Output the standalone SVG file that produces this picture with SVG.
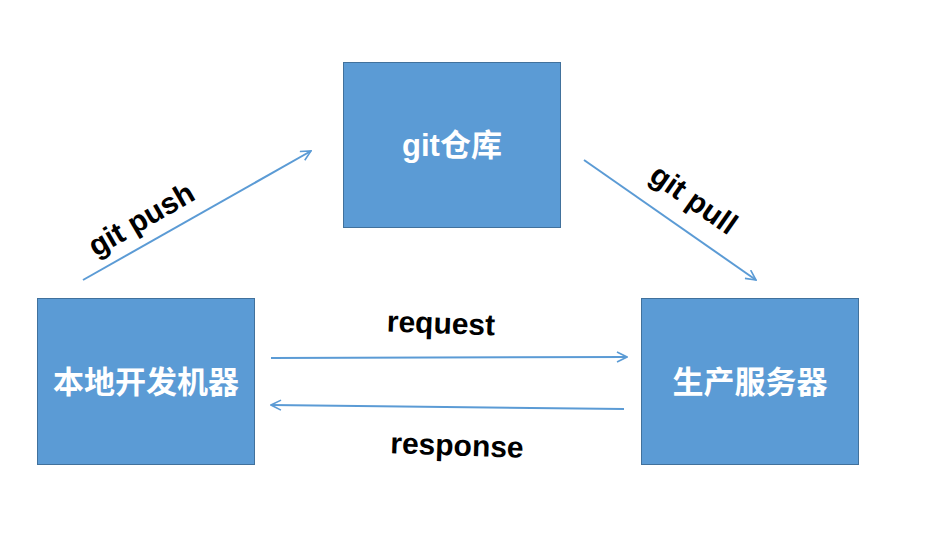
<svg xmlns="http://www.w3.org/2000/svg" width="927" height="554" viewBox="0 0 927 554">
<defs>
<marker id="arr" viewBox="0 0 12 12" refX="11" refY="6" markerWidth="12" markerHeight="12" markerUnits="userSpaceOnUse" orient="auto">
<path d="M1,1 L11,6 L1,11" fill="none" stroke="#5B9BD5" stroke-width="1.6"/>
</marker>
</defs>
<style>
.box{fill:#5B9BD5;stroke:#41719C;stroke-width:1}
.nt{font-family:"Liberation Sans","Noto Sans CJK SC",sans-serif;font-weight:bold;font-size:31px;fill:#fff;text-anchor:middle;dominant-baseline:central}
.lbl{font-family:"Liberation Sans",Arial,sans-serif;font-weight:bold;font-size:30px;fill:#000;text-anchor:middle;dominant-baseline:central}
.c{stroke:#5B9BD5;stroke-width:2;fill:none;marker-end:url(#arr)}
</style>
<rect width="927" height="554" fill="#fff"/>
<g id="git-repo"><rect class="box" x="343.5" y="62.5" width="217" height="165"/><text class="nt" x="452" y="145">git仓库</text></g>
<g id="local-dev"><rect class="box" x="37.5" y="298.5" width="217" height="166"/><text class="nt" x="146" y="382">本地开发机器</text></g>
<g id="prod-server"><rect class="box" x="641.5" y="298.5" width="217" height="166"/><text class="nt" x="750" y="382">生产服务器</text></g>
<g id="connectors">
<line class="c" x1="83" y1="280" x2="311" y2="151"/>
<line class="c" x1="584" y1="160" x2="756" y2="280"/>
<line class="c" x1="271" y1="358" x2="627" y2="357"/>
<line class="c" x1="624" y1="409" x2="271" y2="405"/>
<text class="lbl" transform="translate(141,219) rotate(-30)">git push</text>
<text class="lbl" transform="translate(694,199) rotate(35)">git pull</text>
<text class="lbl" transform="translate(441,323) rotate(2)">request</text>
<text class="lbl" transform="translate(457,445) rotate(2)">response</text>
</g>
</svg>
